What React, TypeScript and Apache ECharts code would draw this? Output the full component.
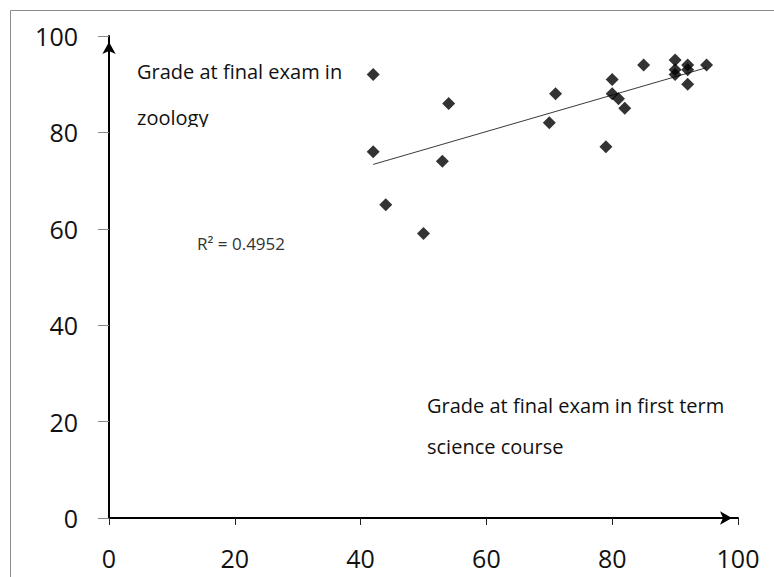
import React, { useEffect, useRef } from "react";
import * as echarts from "echarts";

// Grade at final exam in first term science course (x) vs zoology (y)
const scienceGrades = [42, 54, 71, 80, 85, 90, 90, 90, 92, 92, 92, 95, 80, 81, 82, 70, 42, 53, 79, 44, 50];
const zoologyGrades = [92, 86, 88, 91, 94, 95, 93, 92, 94, 93, 90, 94, 88, 87, 85, 82, 76, 74, 77, 65, 59];

const axisMin = 0;
const axisMax = 100;
const axisStep = 20;

const yTitleLines = ["Grade at final exam in", "zoology"];
const xTitleLines = ["Grade at final exam in first term", "science course"];
const rSquaredText = "R\u00b2 = 0.4952";

const FONT = "'Open Sans', 'DejaVu Sans', sans-serif";

function linearFit(xs: number[], ys: number[]) {
  const n = xs.length;
  const mx = xs.reduce((a, b) => a + b, 0) / n;
  const my = ys.reduce((a, b) => a + b, 0) / n;
  let sxy = 0;
  let sxx = 0;
  for (let i = 0; i < n; i++) {
    sxy += (xs[i] - mx) * (ys[i] - my);
    sxx += (xs[i] - mx) * (xs[i] - mx);
  }
  const slope = sxy / sxx;
  return { slope, intercept: my - slope * mx };
}

export default function App() {
  const ref = useRef<HTMLDivElement>(null);

  useEffect(() => {
    if (!ref.current) return;
    const chart = echarts.init(ref.current, undefined, { renderer: "svg" });
    const fit = linearFit(scienceGrades, zoologyGrades);
    const xLo = Math.min(...scienceGrades);
    const xHi = Math.max(...scienceGrades);
    const trend = [
      [xLo, fit.intercept + fit.slope * xLo],
      [xHi, fit.intercept + fit.slope * xHi],
    ];
    const points = scienceGrades.map((x, i) => [x, zoologyGrades[i]]);

    const textStyle = (size: number, color: string) => ({
      fontSize: size,
      fontFamily: FONT,
      fill: color,
      verticalAlign: "middle",
      align: "left",
    });

    chart.setOption({
      animation: false,
      backgroundColor: "#ffffff",
      grid: { left: 109, right: 36, top: 36, bottom: 59, containLabel: false },
      xAxis: {
        type: "value",
        min: axisMin,
        max: axisMax,
        interval: axisStep,
        axisLine: {
          show: true,
          onZero: false,
          lineStyle: { color: "#000", width: 2 },
          symbol: ["none", "arrow"],
          symbolSize: [10, 12],
          symbolOffset: [0, -6],
        },
        axisTick: { show: true, length: 7, lineStyle: { color: "#222", width: 1 } },
        axisLabel: { fontSize: 25, fontFamily: FONT, color: "#111", margin: 27 },
        splitLine: { show: false },
      },
      yAxis: {
        type: "value",
        min: axisMin,
        max: axisMax,
        interval: axisStep,
        axisLine: {
          show: true,
          onZero: false,
          lineStyle: { color: "#000", width: 2 },
          symbol: ["none", "arrow"],
          symbolSize: [10, 12],
          symbolOffset: [0, -6],
        },
        axisTick: { show: true, length: 11, lineStyle: { color: "#888", width: 1 } },
        axisLabel: { fontSize: 25, fontFamily: FONT, color: "#111", margin: 31 },
        splitLine: { show: false },
      },
      series: [
        {
          type: "line",
          data: trend,
          symbol: "none",
          lineStyle: { color: "#3a3a3a", width: 1 },
          z: 2,
          silent: true,
        },
        {
          type: "scatter",
          data: points,
          symbol: "diamond",
          symbolSize: 13,
          itemStyle: { color: "#000" },
          z: 3,
        },
      ],
      graphic: [
        {
          type: "rect",
          shape: { x: 10.5, y: 10.5, width: 1000, height: 1000 },
          style: { fill: "none", stroke: "#8c8c8c", lineWidth: 1 },
          silent: true,
        },
        { type: "text", x: 137, y: 71, z: 10, style: { text: yTitleLines[0], ...textStyle(20, "#111") } },
        { type: "text", x: 137, y: 117, z: 10, style: { text: yTitleLines[1], ...textStyle(20, "#111") } },
        {
          type: "rect",
          z: 11,
          shape: { x: 130, y: 127, width: 90, height: 9 },
          style: { fill: "#ffffff" },
          silent: true,
        },
        { type: "text", x: 427, y: 405, z: 10, style: { text: xTitleLines[0], ...textStyle(20, "#111") } },
        { type: "text", x: 427, y: 446, z: 10, style: { text: xTitleLines[1], ...textStyle(20, "#111") } },
        { type: "text", x: 197, y: 243, z: 10, style: { text: rSquaredText, ...textStyle(17, "#333") } },
      ],
    });
    return () => chart.dispose();
  }, []);

  return <div ref={ref} style={{ width: 774, height: 577, position: "absolute", left: 0, top: 0 }} />;
}
